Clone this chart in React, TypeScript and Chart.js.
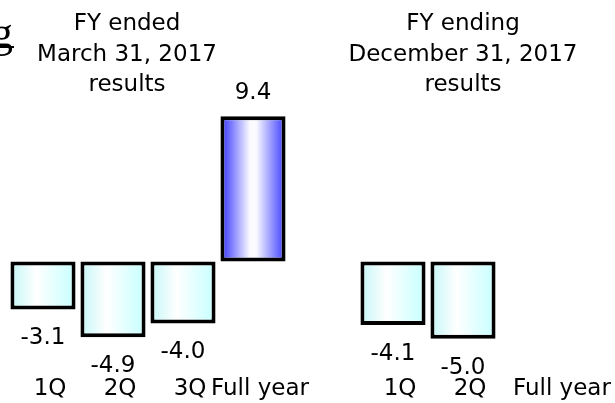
import React, { useEffect, useRef } from "react";
import { Chart, registerables } from "chart.js";

Chart.register(...registerables);

const categories = ["1Q", "2Q", "3Q", "Full year", "", "1Q", "2Q", "Full year"];
const values: (number | null)[] = [-3.1, -4.9, -4.0, 9.4, null, -4.1, -5.0, null];
const leftTitle = ["FY ended", "March 31, 2017", "results"];
const rightTitle = ["FY ending", "December 31, 2017", "results"];

const FONT = '"DejaVu Sans", Verdana, sans-serif';

const valueLabels = {
  id: "valueLabels",
  afterDatasetsDraw(chart: any) {
    const { ctx } = chart;
    const meta = chart.getDatasetMeta(0);
    ctx.save();
    ctx.font = `23px ${FONT}`;
    ctx.fillStyle = "#000";
    ctx.textAlign = "center";
    ctx.textBaseline = "alphabetic";
    meta.data.forEach((el: any, i: number) => {
      const v = values[i];
      if (v == null) return;
      const y = v >= 0 ? el.y - 17 : el.y + 35;
      ctx.fillText(v.toFixed(1), el.x, y);
    });
    ctx.restore();
  },
};

export default function App() {
  const ref = useRef<HTMLCanvasElement>(null);
  useEffect(() => {
    if (!ref.current) return;
    const chart = new Chart(ref.current, {
      type: "bar",
      data: {
        labels: categories,
        datasets: [
          {
            data: values as any,
            borderColor: "#000",
            borderWidth: 4,
            borderSkipped: false,
            barPercentage: 0.93,
            categoryPercentage: 1,
            backgroundColor: (c: any) => {
              const chart = c.chart;
              const xs = chart.scales?.x;
              const v = values[c.dataIndex] ?? 0;
              const pos = v > 0;
              if (!xs || !chart.chartArea) return pos ? "#6060ff" : "#d8ffff";
              const cx = xs.getPixelForValue(c.dataIndex);
              const half = (xs.width / categories.length) * 0.93 / 2;
              const g = chart.ctx.createLinearGradient(cx - half, 0, cx + half, 0);
              if (pos) {
                g.addColorStop(0, "#3030ff");
                g.addColorStop(0.45, "#fafaff");
                g.addColorStop(0.55, "#fafaff");
                g.addColorStop(1, "#3a3aff");
              } else {
                g.addColorStop(0, "#c4f6f6");
                g.addColorStop(0.4, "#ffffff");
                g.addColorStop(1, "#c6ffff");
              }
              return g;
            },
          },
        ],
      },
      options: {
        responsive: false,
        animation: false,
        layout: { padding: { left: 8, right: 47, top: 0, bottom: 0 } },
        plugins: { legend: { display: false }, tooltip: { enabled: false } },
        scales: {
          x: {
            grid: { display: false, drawTicks: false },
            border: { display: false },
            ticks: {
              autoSkip: false,
              maxRotation: 0,
              minRotation: 0,
              labelOffset: 7,
              padding: 2,
              color: "#000",
              font: { family: FONT, size: 23 },
              callback: (_v: any, i: number) =>
                i === categories.length - 1 ? "      " + categories[i] : categories[i],
            },
            afterFit: (s: any) => {
              s.height = 30;
            },
          },
          y: {
            display: false,
            min: -7.21,
            max: 16.93,
          },
        },
      },
      plugins: [valueLabels],
    });
    return () => chart.destroy();
  }, []);

  const titleStyle = (cx: number): React.CSSProperties => ({
    position: "absolute",
    left: cx - 150,
    width: 300,
    top: 7,
    textAlign: "center",
    fontFamily: FONT,
    fontSize: 23,
    lineHeight: "30.5px",
    color: "#000",
    whiteSpace: "nowrap",
  });

  return (
    <div
      style={{
        position: "fixed",
        left: 0,
        top: 0,
        width: 615,
        height: 403,
        background: "#fff",
        overflow: "hidden",
      }}
    >
      <canvas ref={ref} width={615} height={403} style={{ display: "block" }} />
      <div
        style={{
          position: "absolute",
          left: -9,
          top: 11,
          fontFamily: '"Liberation Serif", serif',
          fontSize: 44,
          lineHeight: "44px",
          color: "#000",
        }}
      >
        g
      </div>
      <div
        style={{
          position: "absolute",
          left: 0,
          top: 46,
          width: 14,
          height: 2,
          background: "#000",
        }}
      />
      <div style={titleStyle(127)}>
        {leftTitle.map((t, i) => (
          <div key={i}>{t}</div>
        ))}
      </div>
      <div style={titleStyle(463)}>
        {rightTitle.map((t, i) => (
          <div key={i}>{t}</div>
        ))}
      </div>
    </div>
  );
}
